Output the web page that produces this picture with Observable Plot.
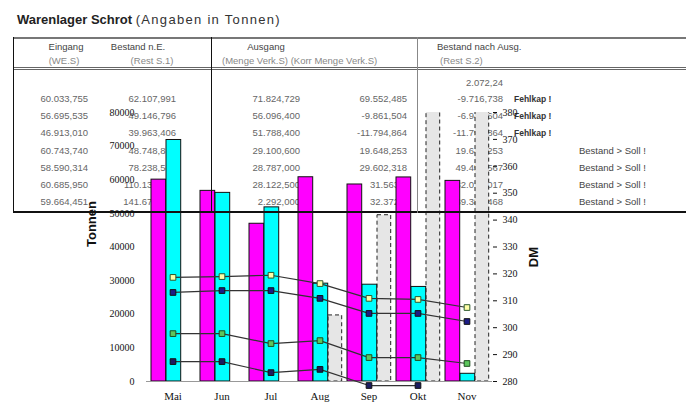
<!DOCTYPE html>
<html><head><meta charset="utf-8">
<script src="https://cdn.jsdelivr.net/npm/d3@7"></script>
<script src="https://cdn.jsdelivr.net/npm/@observablehq/plot@0.6"></script>
<style>
body{margin:0;background:#fff;}
#wrap{position:relative;width:686px;height:403px;overflow:hidden;font-family:"Liberation Sans",Arial,sans-serif;}
#title{position:absolute;left:17px;top:12px;font-size:13px;color:#222;white-space:nowrap;z-index:3}
#title span{letter-spacing:1.3px;color:#333}
.layer{position:absolute;left:0;top:0;width:686px;height:403px;}
#txt{z-index:0}
#chart{z-index:1}
#lines{z-index:2;pointer-events:none}
.t{position:absolute;font-size:9.5px;line-height:12px;white-space:nowrap;color:#666;}
.l{position:absolute;}
</style></head><body>
<div id="wrap">
 <div id="title"><b>Warenlager Schrot</b> <span>(Angaben in Tonnen)</span></div>
 <div id="txt" class="layer"></div>
 <div id="chart" class="layer"></div>
 <div id="lines" class="layer"></div>
</div>
<script>
// ---- data ----
const months = ["Mai","Jun","Jul","Aug","Sep","Okt","Nov"];
const bestandStart = 2072.24;
const eingang   = [60033.755, 56695.535, 46913.010, 60743.740, 58590.314, 60685.950, 59664.451];
const bestandNE = [62107.991, 49146.796, 39963.406, 48748.853, 78238.567, 110137.517, 141679.468];
const ausgang   = [71824.729, 56096.400, 51788.400, 29100.600, 28787.000, 28122.500, 2292.000];
const korrMenge = [69552.485, -9861.504, -11794.864, 19648.253, 29602.318, 31563.4, 32372.4];
const bestandNA = [-9716.738, -6949.604, -11794.864, 19648.253, 49451.567, 82015.017, 139387.468];
const hinweis   = ["Fehlkap !","Fehlkap !","Fehlkap !","Bestand > Soll !","Bestand > Soll !","Bestand > Soll !","Bestand > Soll !"];
// price lines (DM, right axis)
const preisA = [318.7, 319.0, 319.5, 316.4, 310.9, 310.5, 307.5];
const preisB = [313.1, 313.8, 313.8, 310.9, 305.3, 305.3, 302.3];
const preisC = [297.8, 297.8, 294.1, 295.2, 288.9, 288.9, 286.7];
const preisD = [287.4, 287.4, 283.3, 284.5, 278.5, 278.5, null];
const tonTicks = d3.range(0, 80001, 10000);
const dmTicks = d3.range(280, 381, 10);

// ---- table text (below bars) ----
const txt = document.getElementById("txt");
function put(str, opts){
  const s = document.createElement("div");
  s.className = "t";
  s.textContent = str;
  s.style.top = (opts.y - 6) + "px";
  if (opts.right != null) s.style.right = (686 - opts.right) + "px";
  if (opts.left != null) s.style.left = opts.left + "px";
  if (opts.center != null) { s.style.left = opts.center + "px"; s.style.transform = "translateX(-50%)"; }
  if (opts.color) s.style.color = opts.color;
  if (opts.size) s.style.fontSize = opts.size + "px";
  if (opts.weight) s.style.fontWeight = opts.weight;
  txt.appendChild(s);
}
const f3 = v => v.toLocaleString("de-DE",{minimumFractionDigits:3, maximumFractionDigits:3});
const fk = v => v.toLocaleString("de-DE",{maximumFractionDigits:3});
put("Eingang", {center:66, y:47, color:"#444"});
put("(WE.S)", {center:64, y:61, color:"#888"});
put("Bestand n.E.", {center:138, y:47, color:"#444"});
put("(Rest S.1)", {center:152, y:61, color:"#888"});
put("Ausgang", {center:266, y:47, color:"#444"});
put("(Menge Verk.S) (Korr Menge Verk.S)", {left:222, y:61, color:"#888"});
put("Bestand nach Ausg.", {left:437, y:47, color:"#444"});
put("(Rest S.2)", {left:440, y:61, color:"#888"});
put(fk(bestandStart), {right:503, y:83});
months.forEach((m,i) => {
  const y = 99 + i*17.2;
  put(f3(eingang[i]), {right:88, y});
  put(f3(bestandNE[i]), {right:176, y});
  put(f3(ausgang[i]), {right:300, y});
  put(fk(korrMenge[i]), {right:407, y});
  put(f3(bestandNA[i]), {right:503, y});
  if (i < 3) put(hinweis[i], {left:514, y, color:"#333", weight:"bold", size:8.5});
  else put(hinweis[i], {left:579, y, color:"#444"});
});

// ---- table lines (above bars) ----
const lines = document.getElementById("lines");
function ln(css){ const d=document.createElement("div"); d.className="l"; Object.assign(d.style, css); lines.appendChild(d); }
ln({left:"13px", top:"37px", width:"673px", height:"0", borderTop:"2px solid #777"});
ln({left:"13px", top:"67px", width:"673px", height:"0", borderTop:"3px double #666"});
ln({left:"13px", top:"211px", width:"673px", height:"0", borderTop:"2px solid #111"});
ln({left:"13px", top:"37px", width:"0", height:"176px", borderLeft:"1.5px solid #111"});
ln({left:"211px", top:"37px", width:"0", height:"176px", borderLeft:"1.5px solid #111"});
ln({left:"417px", top:"37px", width:"0", height:"176px", borderLeft:"1px solid #888"});

// ---- chart ----
const dm = d3.scaleLinear([280, 380], [0, 80000]);
const rows = months.map((m,i) => ({m, ein: eingang[i], aus: ausgang[i], bna: bestandNA[i]}));
const series = [
  {vals: preisA, fill:"#ffffa8", stroke:"#2d5a2d"},
  {vals: preisB, fill:"#1c1c86", stroke:"#111"},
  {vals: preisC, fill:"#5cc65c", stroke:"#1e4d1e"},
  {vals: preisD, fill:"#1c1c60", stroke:"#111"}
];
const serMarks = series.flatMap((s, k) => {
  const d = months.map((m,i) => ({m, v: s.vals[i]})).filter(p => p.v != null);
  return [
    Plot.line(d, {x:"m", y: p => dm(p.v), stroke:"#333", strokeWidth:1.2}),
    Plot.dot(d, {x:"m", y: p => dm(p.v), symbol:"square", r:3.2, fill:s.fill, stroke:s.stroke, strokeWidth:1})
  ];
});
const chart = Plot.plot({
  width: 686, height: 403,
  marginTop: 112, marginBottom: 22, marginLeft: 146, marginRight: 194,
  style: {fontFamily:"Liberation Serif", fontSize:"10px", background:"transparent", color:"#111"},
  x: {type:"band", domain: months, padding: 0, axis: null},
  y: {domain: [0, 80000], axis: null},
  marks: [
    Plot.barY(rows.filter(d => d.bna > 0), {x:"m", y:"bna", insetLeft:33, insetRight:2.3, fill:"#e6e6e6", stroke:"#222", strokeDasharray:"4,3", clip:true}),
    Plot.barY(rows, {x:"m", y:"ein", insetLeft:3, insetRight:31.3, fill:"#ff00ff", stroke:"#111"}),
    Plot.barY(rows, {x:"m", y:"aus", insetLeft:18, insetRight:16.3, fill:"#00ffff", stroke:"#111"}),
    Plot.ruleY([0], {stroke:"#999"}),
    ...serMarks,
    Plot.axisY(tonTicks, {anchor:"left", tickSize:0, tickPadding:12, tickFormat: d => String(d), label:null}),
    Plot.axisY(dmTicks.map(v => dm(v)), {anchor:"right", tickSize:4, tickPadding:6, tickFormat: d => String(Math.round(dm.invert(d))), label:null}),
    Plot.axisX({tickSize:0, tickPadding:11, label:null, fontSize:11}),
    Plot.text(["Tonnen"], {frameAnchor:"left", dx:-55, rotate:-90, text: d => d, fontFamily:"Liberation Sans", fontWeight:"bold", fontSize:13}),
    Plot.text(["DM"], {frameAnchor:"right", dx:41, rotate:-90, text: d => d, fontFamily:"Liberation Sans", fontWeight:"bold", fontSize:13})
  ]
});
document.getElementById("chart").appendChild(chart);
</script>
</body></html>
